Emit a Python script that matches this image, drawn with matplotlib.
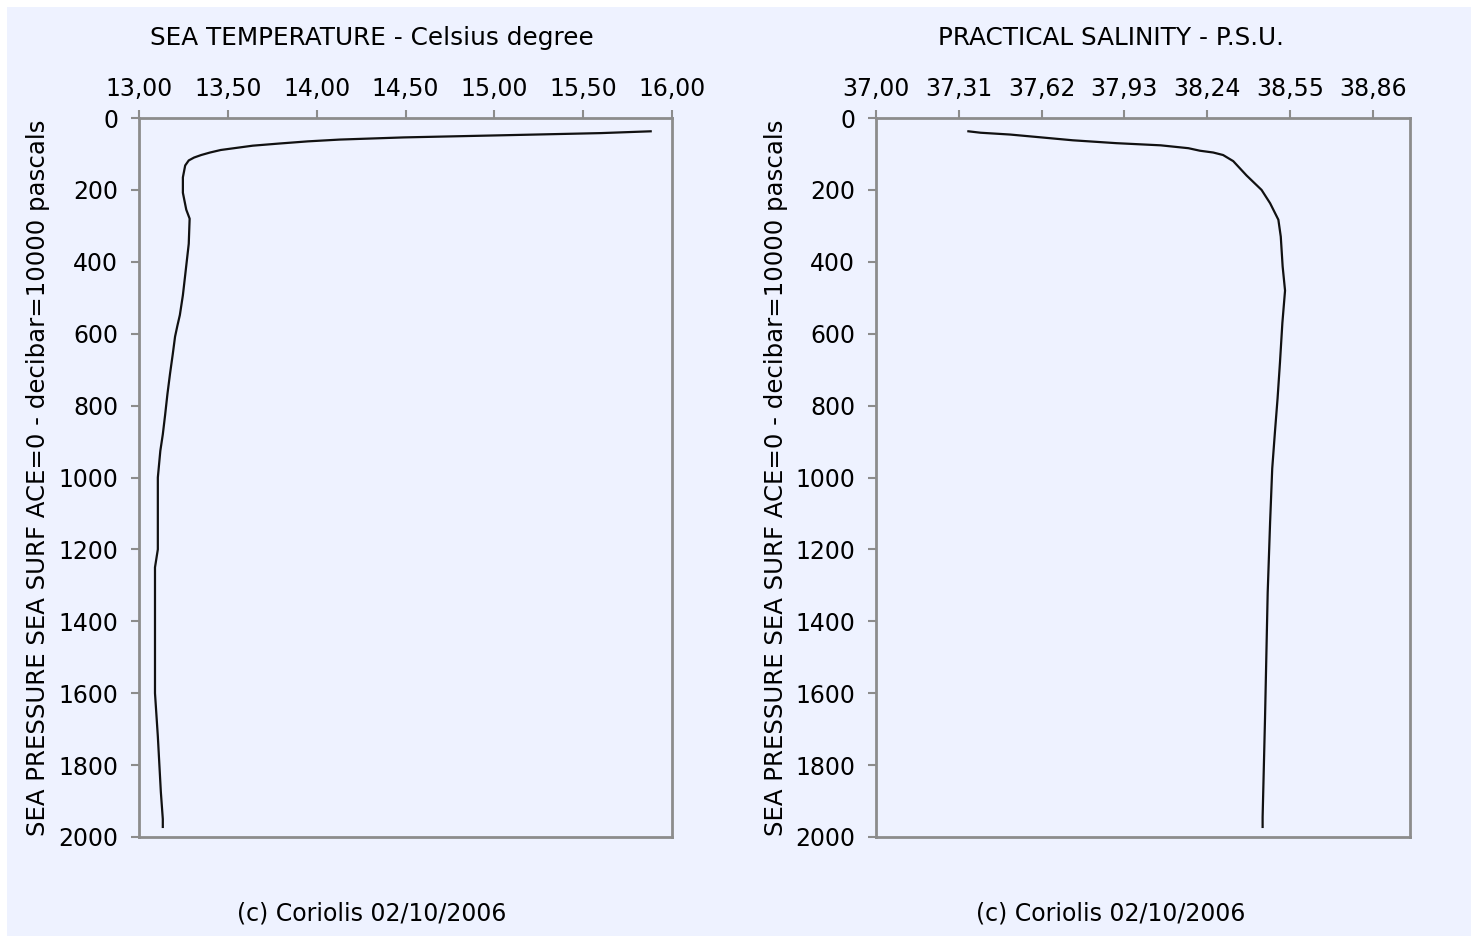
import matplotlib
matplotlib.use("Agg")
import matplotlib.pyplot as plt
from matplotlib.patches import Rectangle

# ----------------------------------------------------------------------
# profile data (pressure in decibar)
TEMP_PRES = [37, 42, 48, 54, 60, 65, 71, 77, 83, 89, 96, 103, 110, 118, 132,
             165, 208, 255, 280, 350, 437, 493, 548, 578, 608, 657, 710, 768,
             826, 880, 926, 1000, 1200, 1250, 1600, 1720, 1875, 1950, 1972]
TEMP_VAL = [15.88, 15.60, 15.05, 14.49, 14.13, 13.95, 13.79, 13.64, 13.55,
            13.46, 13.40, 13.35, 13.31, 13.28, 13.26, 13.247, 13.247, 13.266,
            13.285, 13.28, 13.26, 13.247, 13.23, 13.216, 13.203, 13.19, 13.175,
            13.16, 13.147, 13.134, 13.12, 13.106, 13.106, 13.09, 13.09, 13.106,
            13.123, 13.134, 13.134]

SAL_PRES = [37, 41, 46, 53, 62, 70, 76, 84, 91, 96, 103, 120, 160, 200, 237,
            283, 330, 413, 480, 570, 680, 780, 875, 975, 1125, 1320, 1670,
            1945, 1972]
SAL_VAL = [37.346, 37.392, 37.502, 37.605, 37.737, 37.90, 38.066, 38.17,
           38.213, 38.263, 38.30, 38.338, 38.388, 38.444, 38.476, 38.507,
           38.516, 38.523, 38.532, 38.522, 38.513, 38.504, 38.494, 38.484,
           38.476, 38.467, 38.457, 38.448, 38.448]

TEMP_TICKS = [13.0, 13.5, 14.0, 14.5, 15.0, 15.5, 16.0]
TEMP_LABELS = ['13,00', '13,50', '14,00', '14,50', '15,00', '15,50', '16,00']
SAL_TICKS = [37.00, 37.31, 37.62, 37.93, 38.24, 38.55, 38.86]
SAL_LABELS = ['37,00', '37,31', '37,62', '37,93', '38,24', '38,55', '38,86']
PRES_TICKS = [0, 200, 400, 600, 800, 1000, 1200, 1400, 1600, 1800, 2000]

TITLES = ["SEA TEMPERATURE - Celsius degree", "PRACTICAL SALINITY - P.S.U."]
YLABEL = "SEA PRESSURE SEA SURF ACE=0 - decibar=10000 pascals"
FOOTER = "(c) Coriolis 02/10/2006"

BG = '#EEF2FF'
FRAME = '#8C8C8C'
W, H = 1471, 936
FS = 17

plt.rcParams.update({"font.family": ["DejaVu Sans"], "font.size": FS})

fig = plt.figure(figsize=(W / 100, H / 100), dpi=100, facecolor='white')
# lavender panel, leaving a thin white strip at top and left
fig.patches.append(Rectangle((7 / W, 0), 1, 1 - 7 / H, transform=fig.transFigure,
                             facecolor=BG, edgecolor='none', zorder=-10))


def px_axes(x0, x1, y0, y1):
    # axes from pixel box (top-left origin)
    return fig.add_axes([x0 / W, 1 - y1 / H, (x1 - x0) / W, (y1 - y0) / H])


def style(ax, xlim, ticks, labels):
    ax.set_facecolor(BG)
    ax.set_xlim(*xlim)
    ax.set_ylim(2000, 0)
    ax.xaxis.tick_top()
    ax.set_xticks(ticks)
    ax.set_xticklabels(labels)
    ax.set_yticks(PRES_TICKS)
    ax.set_yticklabels([str(p) for p in PRES_TICKS])
    ax.tick_params(axis='x', direction='out', length=6, width=1.5,
                   color=FRAME, pad=6, labelsize=FS)
    ax.tick_params(axis='y', direction='out', length=6, width=1.5,
                   color=FRAME, pad=9, labelsize=FS)
    for sp in ax.spines.values():
        sp.set_color(FRAME)
        sp.set_linewidth(2)


ax1 = px_axes(139, 672, 118, 837)
style(ax1, (13.0, 16.0), TEMP_TICKS, TEMP_LABELS)
ax1.plot(TEMP_VAL, TEMP_PRES, color='#111111', lw=1.6)

ax2 = px_axes(876, 1410, 118, 837)
style(ax2, (37.0, 39.0), SAL_TICKS, SAL_LABELS)
ax2.plot(SAL_VAL, SAL_PRES, color='#111111', lw=1.6)

for cx, ylx, title in [(372, 38, TITLES[0]), (1111, 776, TITLES[1])]:
    fig.text(cx / W, 1 - 38 / H, title, ha='center', va='center', fontsize=17.8)
    fig.text(cx / W, 1 - 913 / H, FOOTER, ha='center', va='center', fontsize=FS)
    fig.text(ylx / W, 1 - 478 / H, YLABEL, ha='center', va='center',
             rotation=90, fontsize=17.6)

fig.savefig("out.png", dpi=100, facecolor='white')
